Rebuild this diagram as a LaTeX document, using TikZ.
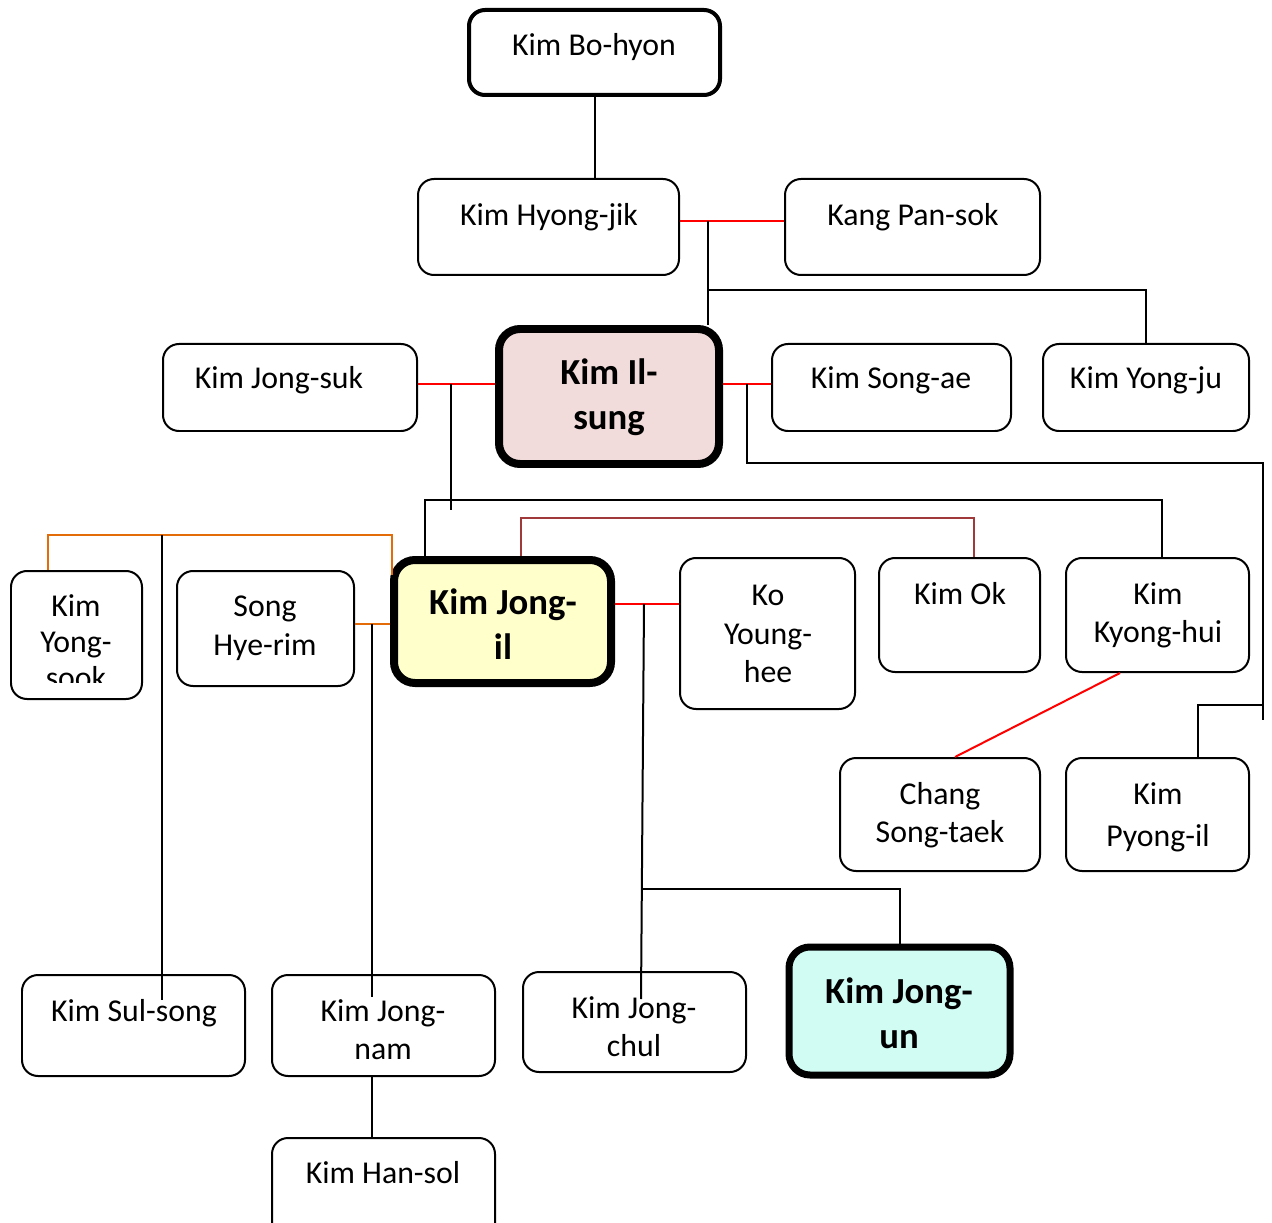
\documentclass[tikz,border=0pt]{standalone}
\usepackage{fontspec}
\setmainfont{Carlito}
\usetikzlibrary{fit}
\definecolor{ilsungfill}{HTML}{F2DCDB}
\definecolor{jongilfill}{HTML}{FFFFCC}
\definecolor{jongunfill}{HTML}{D0FCF4}
\definecolor{wedorange}{HTML}{E36C09}
\definecolor{wedbrown}{HTML}{A0393A}
\begin{document}
\begin{tikzpicture}[x=0.02cm, y=-0.02cm,
  box/.style={draw, fill=white, rounded corners=0.32cm, line width=0.04cm, inner sep=0pt},
  bigbox/.style={box, rounded corners=0.42cm, line width=0.16cm},
  nm/.style={font=\fontsize{18.1}{21.9}\selectfont, align=center, anchor=north, inner sep=0pt},
  bnm/.style={nm, font=\bfseries\fontsize{20.9}{25.6}\selectfont},
  link/.style={line width=0.04cm},
  wed/.style={link, red},
  wedo/.style={link, wedorange},
  wedb/.style={link, wedbrown}]
\useasboundingbox (0,0) rectangle (1272,1223);
%\draw[help lines, color=gray!30, dashed] (0,0) grid[step=100] (1272,1223);
% boxes
\node[box, line width=0.08cm, fit={(469,10) (720,95)}] (bohyon) {};
\node[box, fit={(418,179) (679,275)}] (hyongjik) {};
\node[box, fit={(785,179) (1040,275)}] (pansok) {};
\node[box, fit={(163,344) (417,431)}] (jongsuk) {};
\node[bigbox, fill=ilsungfill, fit={(499,329) (719,464)}] (ilsung) {};
\node[box, fit={(772,344) (1011,431)}] (songae) {};
\node[box, fit={(1043,344) (1249,431)}] (yongju) {};
\node[box, fit={(11,571) (142,699)}] (yongsook) {};
\node[box, fit={(177,571) (354,686)}] (hyerim) {};
\node[bigbox, fill=jongilfill, fit={(394,560) (611,683)}] (jongil) {};
\node[box, fit={(680,558) (855,709)}] (younghee) {};
\node[box, fit={(879,558) (1040,672)}] (kimok) {};
\node[box, fit={(1066,558) (1249,672)}] (kyonghui) {};
\node[box, fit={(840,758) (1040,871)}] (songtaek) {};
\node[box, fit={(1066,758) (1249,871)}] (pyongil) {};
\node[box, fit={(22,975) (245,1076)}] (sulsong) {};
\node[box, fit={(272,975) (495,1076)}] (jongnam) {};
\node[box, fit={(523,972) (746,1072)}] (jongchul) {};
\node[bigbox, line width=0.14cm, fill=jongunfill, fit={(789,947) (1010,1075)}] (jongun) {};
\node[box, fit={(272,1138) (495,1240)}] (hansol) {};
% names
\node[nm] (bohyon-t) at (594,33) {Kim Bo-hyon};
\node[nm] (hyongjik-t) at (549,203) {Kim Hyong-jik};
\node[nm] (pansok-t) at (913,203) {Kang Pan-sok};
\node[nm] (jongsuk-t) at (279,366) {Kim Jong-suk};
\node[bnm] (ilsung-t) at (609,358) {Kim Il-\\sung};
\node[nm] (songae-t) at (891,366) {Kim Song-ae};
\node[nm] (yongju-t) at (1146,366) {Kim Yong-ju};
\begin{scope}
\clip (11,571) rectangle (142,682);
\node[nm, font=\fontsize{18.1}{20.5}\selectfont] (yongsook-t) at (76,594) {Kim\\Yong-\\sook};
\end{scope}
\node[nm] (hyerim-t) at (265,596) {Song\\Hye-rim};
\node[bnm] (jongil-t) at (503,588) {Kim Jong-\\il};
\node[nm] (younghee-t) at (768,585) {Ko\\Young-\\hee};
\node[nm] (kimok-t) at (960,582) {Kim Ok};
\node[nm] (kyonghui-t) at (1158,582) {Kim\\Kyong-hui};
\node[nm] (songtaek-t) at (940,782) {Chang\\Song-taek};
\node[nm, font=\fontsize{18.1}{24}\selectfont] (pyongil-t) at (1158,782) {Kim\\Pyong-il};
\node[nm] (sulsong-t) at (134,999) {Kim Sul-song};
\node[nm] (jongnam-t) at (383,999) {Kim Jong-\\nam};
\node[nm] (jongchul-t) at (634,996) {Kim Jong-\\chul};
\node[bnm] (jongun-t) at (899,977) {Kim Jong-\\un};
\node[nm] (hansol-t) at (383,1161) {Kim Han-sol};
% junctions
\coordinate (hub1) at (708,221);
\coordinate (hub2) at (708,290);
\coordinate (hub3) at (451,384);
\coordinate (hub4) at (747,384);
\coordinate (hub5) at (1263,463);
\coordinate (hub6) at (372,624);
\coordinate (hub7) at (644,604);
\coordinate (hub8) at (642,889);
\coordinate (end3) at (451,510);
\coordinate (end5) at (1263,720);
\coordinate (end6) at (372,997);
\coordinate (end7) at (641,999);
\coordinate (end9) at (162,1000);
% connectors
\draw[link] (bohyon.south) -- (bohyon.south |- hyongjik.north);
\draw[wed] (hyongjik.east |- hub1) -- (pansok.west |- hub1);
\draw[link] (hub1) -- (hub1 |- ilsung.north);
\draw[link] (hub2) -| (yongju.north);
\draw[wed] (jongsuk.east |- hub3) -- (ilsung.west |- hub3);
\draw[link] (hub3) -- (end3);
\draw[wed] (ilsung.east |- hub4) -- (songae.west |- hub4);
\draw[link] (hub4) |- (hub5) -- (end5);
\draw[link] (jongil.north -| 425,0) |- (1162,500) -- (kyonghui.north -| 1162,0);
\draw[wedb] (jongil.north -| 521,0) |- (974,518) -- (kimok.north -| 974,0);
\draw[wedo] (yongsook.north -| 48,0) |- (392,535) -- (392,575);
\draw[wedo] (hyerim.east |- hub6) -- (jongil.west |- hub6);
\draw[link] (162,535) -- (end9);
\draw[link] (hub6) -- (end6);
\draw[wed] (jongil.east |- hub7) -- (younghee.west |- hub7);
\draw[link] (hub7) -- (end7);
\draw[link] (hub8) -| (jongun.north);
\draw[wed] (kyonghui.south -| 1120,0) -- (songtaek.north -| 955,0);
\draw[link] (1263,705) -| (pyongil.north -| 1198,0);
\draw[link] (jongnam.south -| 372,0) -- (hansol.north -| 372,0);
\end{tikzpicture}
\end{document}
